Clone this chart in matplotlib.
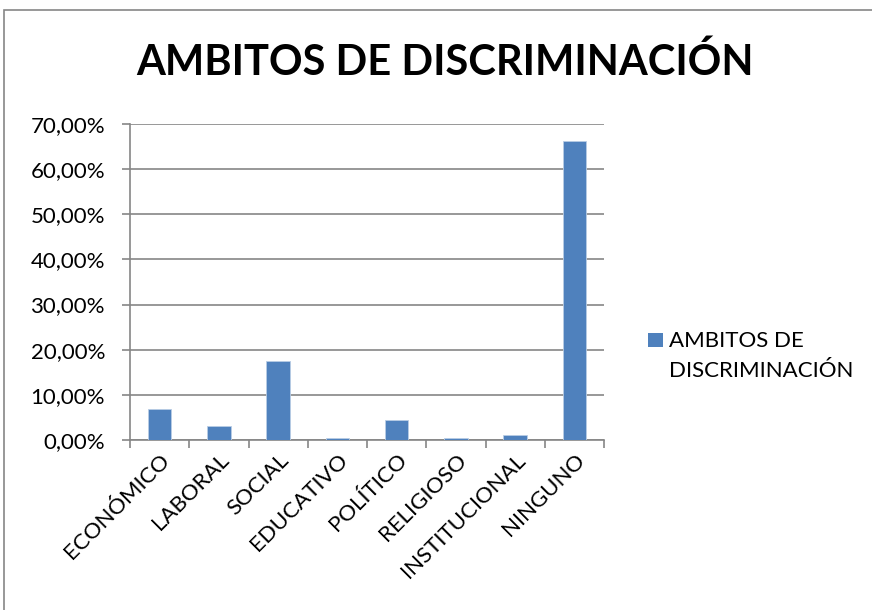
import matplotlib.pyplot as plt
import numpy as np
from matplotlib.patches import Rectangle
from matplotlib.ticker import FuncFormatter

plt.rcParams['font.family'] = ['Lato', 'DejaVu Sans']

categorias = ['ECONÓMICO', 'LABORAL', 'SOCIAL', 'EDUCATIVO', 'POLÍTICO',
              'RELIGIOSO', 'INSTITUCIONAL', 'NINGUNO']
valores = [6.8, 3.2, 17.4, 0.4, 4.5, 0.4, 1.1, 66.2]
serie = 'AMBITOS DE\nDISCRIMINACIÓN'
titulo = 'AMBITOS DE DISCRIMINACIÓN'

azul = '#4f81bd'
gris = '#868686'

fig = plt.figure(figsize=(8.72, 6.10), dpi=100)
# marco exterior del grafico
fig.patches.append(Rectangle((4 / 872, -0.01), 1.05, 1 - 10 / 610 + 0.01,
                             transform=fig.transFigure, fill=False,
                             edgecolor=gris, linewidth=1.2))

ax = fig.add_axes([130 / 872, 1 - 440 / 610, (604 - 130) / 872, (440 - 124) / 610])

x = np.arange(len(categorias))
ax.bar(x, valores, width=0.4, color=azul, edgecolor='#b9cde5', linewidth=0.6,
       zorder=3, label=serie)

ax.set_xlim(-0.5, len(categorias) - 0.5)
ax.set_ylim(0, 70)
ax.set_yticks(np.arange(0, 71, 10))
ax.yaxis.set_major_formatter(FuncFormatter(lambda v, p: f'{v:.2f}%'.replace('.', ',')))
ax.grid(axis='y', color=gris, linewidth=1.2, zorder=0)

for s in ['top', 'right']:
    ax.spines[s].set_visible(False)
for s in ['left', 'bottom']:
    ax.spines[s].set_color(gris)
    ax.spines[s].set_linewidth(1.2)

ax.set_xticks(x)
ax.set_xticklabels(categorias, rotation=45, ha='right', rotation_mode='anchor',
                   fontsize=16)
ax.tick_params(axis='x', length=0, pad=7)
ax.set_xticks(np.arange(-0.5, len(categorias)), minor=True)
ax.tick_params(axis='x', which='minor', length=6, color=gris, width=1.2)
ax.tick_params(axis='y', length=6, color=gris, width=1.2, labelsize=16, pad=12)

fig.text(445 / 872, 1 - 62 / 610, titulo, ha='center', va='center',
         fontsize=30, fontweight='bold')

# leyenda: cuadro alineado con la primera linea del texto
fig.patches.append(Rectangle((648 / 872, 1 - 347 / 610), 15 / 872, 14 / 610,
                             transform=fig.transFigure, facecolor=azul,
                             edgecolor='none'))
fig.text(669 / 872, 1 - 331 / 610, serie, ha='left', va='top', fontsize=16,
         linespacing=1.65)

fig.savefig('out.png', dpi=100)
